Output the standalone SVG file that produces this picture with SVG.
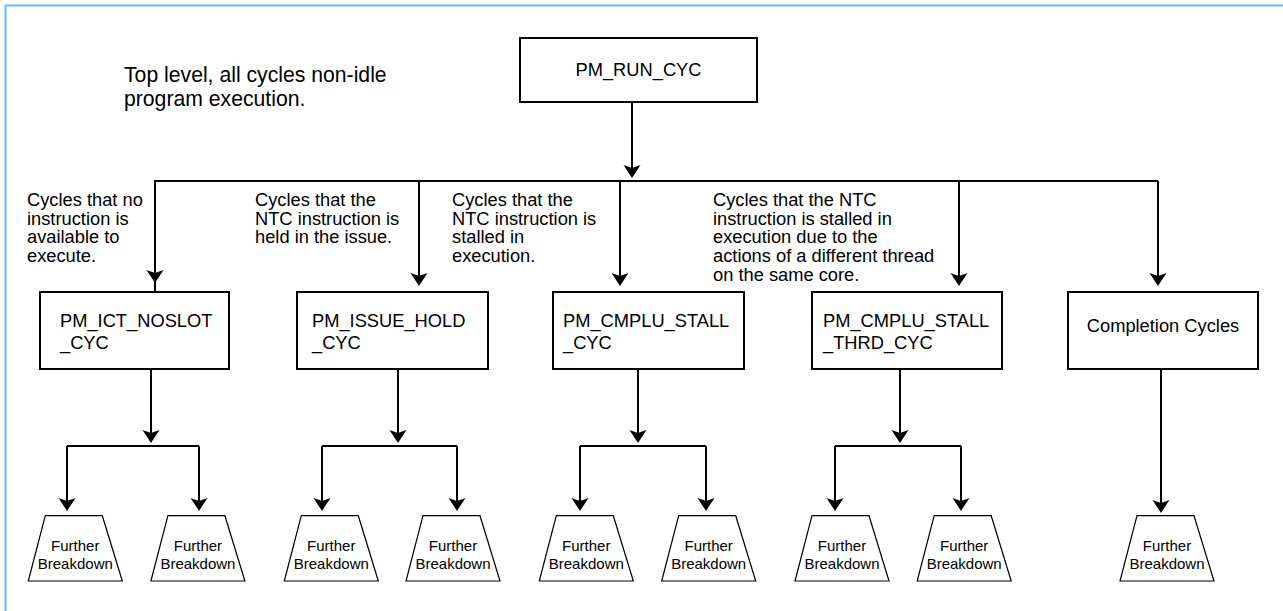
<svg xmlns="http://www.w3.org/2000/svg" width="1283" height="611" viewBox="0 0 1283 611">
<style>
.frame{fill:none;stroke:#66bbf7;stroke-width:2}
.box{fill:#fff;stroke:#000;stroke-width:2}
.trap{fill:#fff;stroke:#000;stroke-width:1.2}
.ln{fill:none;stroke:#000;stroke-width:2}
.arr{marker-end:url(#ah)}
text{font-family:"Liberation Sans",Arial,Helvetica,sans-serif;fill:#000}
.t18{font-size:18.3px}
.t21{font-size:21.2px}
.t15{font-size:15px;text-anchor:middle}
</style>
<defs>
<marker id="ah" markerUnits="userSpaceOnUse" markerWidth="18" markerHeight="18" refX="10" refY="8.5" orient="auto">
<path d="M0,0 L13,8.5 L0,17 L3,8.5 Z" fill="#000"/>
</marker>
</defs>
<rect class="frame" x="5.5" y="5.5" width="1295" height="625"/>

<g id="caption">
<text class="t21" x="124" y="82">Top level, all cycles non-idle</text>
<text class="t21" x="124" y="106">program execution.</text>
</g>

<g id="connectors">
<line class="ln arr" x1="632" y1="102" x2="632" y2="175"/>
<polyline class="ln" points="155,291 155,181 1158,181"/>
<line class="ln arr" x1="155" y1="181" x2="155" y2="280"/>
<line class="ln arr" x1="419" y1="181" x2="419" y2="283"/>
<line class="ln arr" x1="620" y1="181" x2="620" y2="283"/>
<line class="ln arr" x1="959" y1="181" x2="959" y2="283"/>
<line class="ln arr" x1="1158" y1="181" x2="1158" y2="283"/>

<line class="ln arr" x1="151" y1="369" x2="151" y2="440"/>
<line class="ln" x1="67" y1="446" x2="199" y2="446"/>
<line class="ln arr" x1="67" y1="446" x2="67" y2="508"/>
<line class="ln arr" x1="199" y1="446" x2="199" y2="508"/>

<line class="ln arr" x1="398" y1="369" x2="398" y2="440"/>
<line class="ln" x1="322" y1="446" x2="457" y2="446"/>
<line class="ln arr" x1="322" y1="446" x2="322" y2="508"/>
<line class="ln arr" x1="457" y1="446" x2="457" y2="508"/>

<line class="ln arr" x1="638" y1="369" x2="638" y2="440"/>
<line class="ln" x1="580" y1="446" x2="706" y2="446"/>
<line class="ln arr" x1="580" y1="446" x2="580" y2="508"/>
<line class="ln arr" x1="706" y1="446" x2="706" y2="508"/>

<line class="ln arr" x1="900" y1="369" x2="900" y2="440"/>
<line class="ln" x1="835" y1="446" x2="961" y2="446"/>
<line class="ln arr" x1="835" y1="446" x2="835" y2="508"/>
<line class="ln arr" x1="961" y1="446" x2="961" y2="508"/>

<line class="ln arr" x1="1161" y1="369" x2="1161" y2="510"/>
</g>

<g id="labels">
<text class="t18"><tspan x="27" y="206">Cycles that no</tspan><tspan x="27" y="224.7">instruction is</tspan><tspan x="27" y="243.4">available to</tspan><tspan x="27" y="262">execute.</tspan></text>
<text class="t18"><tspan x="255" y="206">Cycles that the</tspan><tspan x="255" y="224.7">NTC instruction is</tspan><tspan x="255" y="243.4">held in the issue.</tspan></text>
<text class="t18"><tspan x="452" y="206">Cycles that the</tspan><tspan x="452" y="224.7">NTC instruction is</tspan><tspan x="452" y="243.4">stalled in</tspan><tspan x="452" y="262">execution.</tspan></text>
<text class="t18"><tspan x="713" y="206">Cycles that the NTC</tspan><tspan x="713" y="224.7">instruction is stalled in</tspan><tspan x="713" y="243.4">execution due to the</tspan><tspan x="713" y="262">actions of a different thread</tspan><tspan x="713" y="280.5">on the same core.</tspan></text>
</g>

<g id="node-run">
<rect class="box" x="520" y="38" width="237" height="64"/>
<text class="t18" x="638.5" y="76" text-anchor="middle">PM_RUN_CYC</text>
</g>
<g id="node-ict">
<rect class="box" x="40" y="292" width="189" height="77"/>
<text class="t18"><tspan x="60" y="326.5">PM_ICT_NOSLOT</tspan><tspan x="60" y="348.5">_CYC</tspan></text>
</g>
<g id="node-issue">
<rect class="box" x="297" y="292" width="191" height="77"/>
<text class="t18"><tspan x="312" y="326.5">PM_ISSUE_HOLD</tspan><tspan x="312" y="348.5">_CYC</tspan></text>
</g>
<g id="node-stall">
<rect class="box" x="553" y="292" width="191" height="77"/>
<text class="t18"><tspan x="563" y="326.5">PM_CMPLU_STALL</tspan><tspan x="563" y="348.5">_CYC</tspan></text>
</g>
<g id="node-thrd">
<rect class="box" x="812" y="292" width="190" height="77"/>
<text class="t18"><tspan x="823" y="326.5">PM_CMPLU_STALL</tspan><tspan x="823" y="348.5">_THRD_CYC</tspan></text>
</g>
<g id="node-completion">
<rect class="box" x="1068" y="292" width="190" height="77"/>
<text class="t18" x="1163" y="332" text-anchor="middle">Completion Cycles</text>
</g>

<g id="fb1"><polygon class="trap" points="45.3,515.7 102.3,515.7 122.3,581 28.3,581"/><text class="t15"><tspan x="75.3" y="551">Further</tspan><tspan x="75.3" y="569">Breakdown</tspan></text></g>
<g id="fb2"><polygon class="trap" points="167.9,515.7 224.9,515.7 244.9,581 150.9,581"/><text class="t15"><tspan x="197.9" y="551">Further</tspan><tspan x="197.9" y="569">Breakdown</tspan></text></g>
<g id="fb3"><polygon class="trap" points="301.3,515.7 358.3,515.7 378.3,581 284.3,581"/><text class="t15"><tspan x="331.3" y="551">Further</tspan><tspan x="331.3" y="569">Breakdown</tspan></text></g>
<g id="fb4"><polygon class="trap" points="423,515.7 480,515.7 500,581 406,581"/><text class="t15"><tspan x="453" y="551">Further</tspan><tspan x="453" y="569">Breakdown</tspan></text></g>
<g id="fb5"><polygon class="trap" points="556.3,515.7 613.3,515.7 633.3,581 539.3,581"/><text class="t15"><tspan x="586.3" y="551">Further</tspan><tspan x="586.3" y="569">Breakdown</tspan></text></g>
<g id="fb6"><polygon class="trap" points="678.7,515.7 735.7,515.7 755.7,581 661.7,581"/><text class="t15"><tspan x="708.7" y="551">Further</tspan><tspan x="708.7" y="569">Breakdown</tspan></text></g>
<g id="fb7"><polygon class="trap" points="812,515.7 869,515.7 889,581 795,581"/><text class="t15"><tspan x="842" y="551">Further</tspan><tspan x="842" y="569">Breakdown</tspan></text></g>
<g id="fb8"><polygon class="trap" points="934.2,515.7 991.2,515.7 1011.2,581 917.2,581"/><text class="t15"><tspan x="964.2" y="551">Further</tspan><tspan x="964.2" y="569">Breakdown</tspan></text></g>
<g id="fb9"><polygon class="trap" points="1137,515.7 1194,515.7 1214,581 1120,581"/><text class="t15"><tspan x="1167" y="551">Further</tspan><tspan x="1167" y="569">Breakdown</tspan></text></g>
</svg>
